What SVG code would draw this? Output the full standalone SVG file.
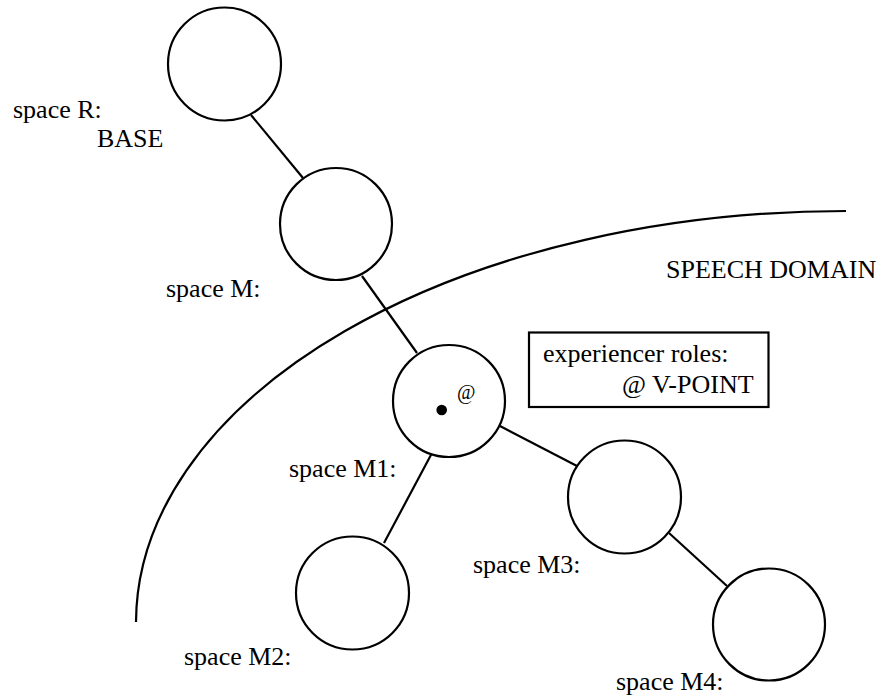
<svg xmlns="http://www.w3.org/2000/svg" width="884" height="698" viewBox="0 0 884 698">
  <style>
    .space { fill: #fff; stroke: #000; stroke-width: 2.2; }
    .link { stroke: #000; stroke-width: 2.2; fill: none; }
    .lbl { font-family: "Liberation Serif", "Times New Roman", serif; font-size: 26px; fill: #000; }
  </style>
  <rect width="884" height="698" fill="#fff"/>

  <!-- boundary of the speech domain -->
  <g id="speech-domain">
    <path class="link" d="M 136 622 A 710 412 0 0 1 846 211"/>
    <text class="lbl" x="666" y="278">SPEECH DOMAIN</text>
  </g>

  <!-- connectors between mental spaces -->
  <g id="connectors">
    <line class="link" x1="251" y1="115" x2="303" y2="178"/>
    <line class="link" x1="362" y1="276" x2="417" y2="353"/>
    <line class="link" x1="500" y1="426" x2="577" y2="466"/>
    <line class="link" x1="432" y1="453" x2="384" y2="543"/>
    <line class="link" x1="669" y1="533" x2="727" y2="586"/>
  </g>

  <g id="space-R">
    <circle class="space" cx="224.5" cy="64" r="56.5"/>
    <text class="lbl" x="13" y="118">space R:</text>
    <text class="lbl" x="97" y="147">BASE</text>
  </g>

  <g id="space-M">
    <circle class="space" cx="336" cy="224" r="56"/>
    <text class="lbl" x="166" y="297">space M:</text>
  </g>

  <g id="space-M1">
    <circle class="space" cx="449" cy="401" r="56"/>
    <circle cx="441.7" cy="410" r="5.3" fill="#000"/>
    <text class="lbl" x="457" y="399" style="font-size:20px">@</text>
    <text class="lbl" x="289" y="477">space M1:</text>
  </g>

  <g id="space-M2">
    <circle class="space" cx="352.5" cy="593" r="56.5"/>
    <text class="lbl" x="184" y="665">space M2:</text>
  </g>

  <g id="space-M3">
    <circle class="space" cx="624.5" cy="497" r="56.5"/>
    <text class="lbl" x="473" y="573">space M3:</text>
  </g>

  <g id="space-M4">
    <circle class="space" cx="769" cy="624.5" r="56"/>
    <text class="lbl" x="616" y="690">space M4:</text>
  </g>

  <g id="roles-box">
    <rect x="529" y="332.5" width="239.5" height="74.5" fill="#fff" stroke="#000" stroke-width="2.2"/>
    <text class="lbl" x="543" y="362">experiencer roles:</text>
    <text class="lbl" x="622" y="393">@ V-POINT</text>
  </g>
</svg>
